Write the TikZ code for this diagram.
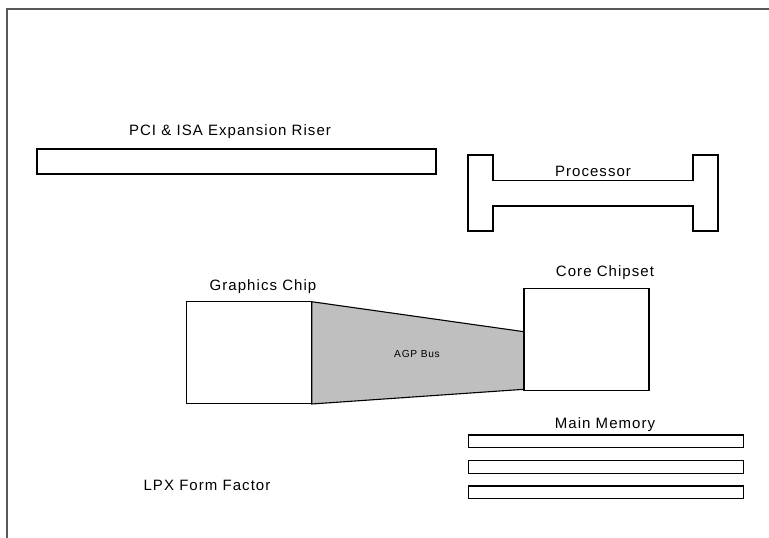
\documentclass[tikz,border=0pt]{standalone}
\usepackage{fontspec}
\setmainfont{Liberation Sans}[LetterSpace=7]
\begin{document}
\begin{tikzpicture}[x=1pt,y=-1pt,
  box/.style={draw=black,line width=1.1pt,inner sep=0pt,outer sep=0pt,fill=white},
  lbl/.style={inner sep=0pt,font=\fontsize{15}{17}\selectfont},
  small/.style={inner sep=0pt,font=\fontsize{10.2}{12}\selectfont}]
\useasboundingbox (0,0) rectangle (769,538);
% frame
\draw[line width=2pt,draw=black!65] (7,538) -- (7,9) -- (769,9);
% riser
\node[box,minimum width=399pt,minimum height=25pt] (riser) at (236.5,161.5) {};
\node[lbl] (riserl) at (230,132) {PCI \& ISA Expansion Riser};
% processor
\draw[line width=1.1pt] (468,155) -- (493,155) -- (493,180.5) -- (693,180.5) -- (693,155) -- (718,155)
  -- (718,231) -- (693,231) -- (693,206) -- (493,206) -- (493,231) -- (468,231) -- cycle;
\node[lbl] (proc) at (593,171.5) {Processor};
% AGP bus
\coordinate (a1) at (311.7,301.7);
\coordinate (a2) at (524,331.7);
\coordinate (a3) at (524,389.3);
\coordinate (a4) at (311.7,404);
\draw[line width=1.1pt,fill=black!25] (a1) -- (a2) -- (a3) -- (a4) -- cycle;
\node[small] (agp) at (417,353.5) {AGP Bus};
% graphics chip
\node[box,minimum width=125pt,minimum height=101.7pt] (gfx) at (249.2,352.5) {};
\node[lbl] (gfxl) at (263,286.5) {Graphics Chip};
% core chipset
\node[box,minimum width=125pt,minimum height=101.7pt] (core) at (586.5,339.2) {};
\node[lbl] (corel) at (605,273) {Core Chipset};
% main memory
\node[box,minimum width=275pt,minimum height=12.7pt] (m1) at (605.8,441.3) {};
\node[box,minimum width=275pt,minimum height=12.7pt] (m2) at (605.8,466.7) {};
\node[box,minimum width=275pt,minimum height=12.7pt] (m3) at (605.8,492.3) {};
\node[lbl] (meml) at (605,425) {Main Memory};
% form factor
\node[lbl] (lpx) at (207,485) {LPX Form Factor};
\end{tikzpicture}
\end{document}
